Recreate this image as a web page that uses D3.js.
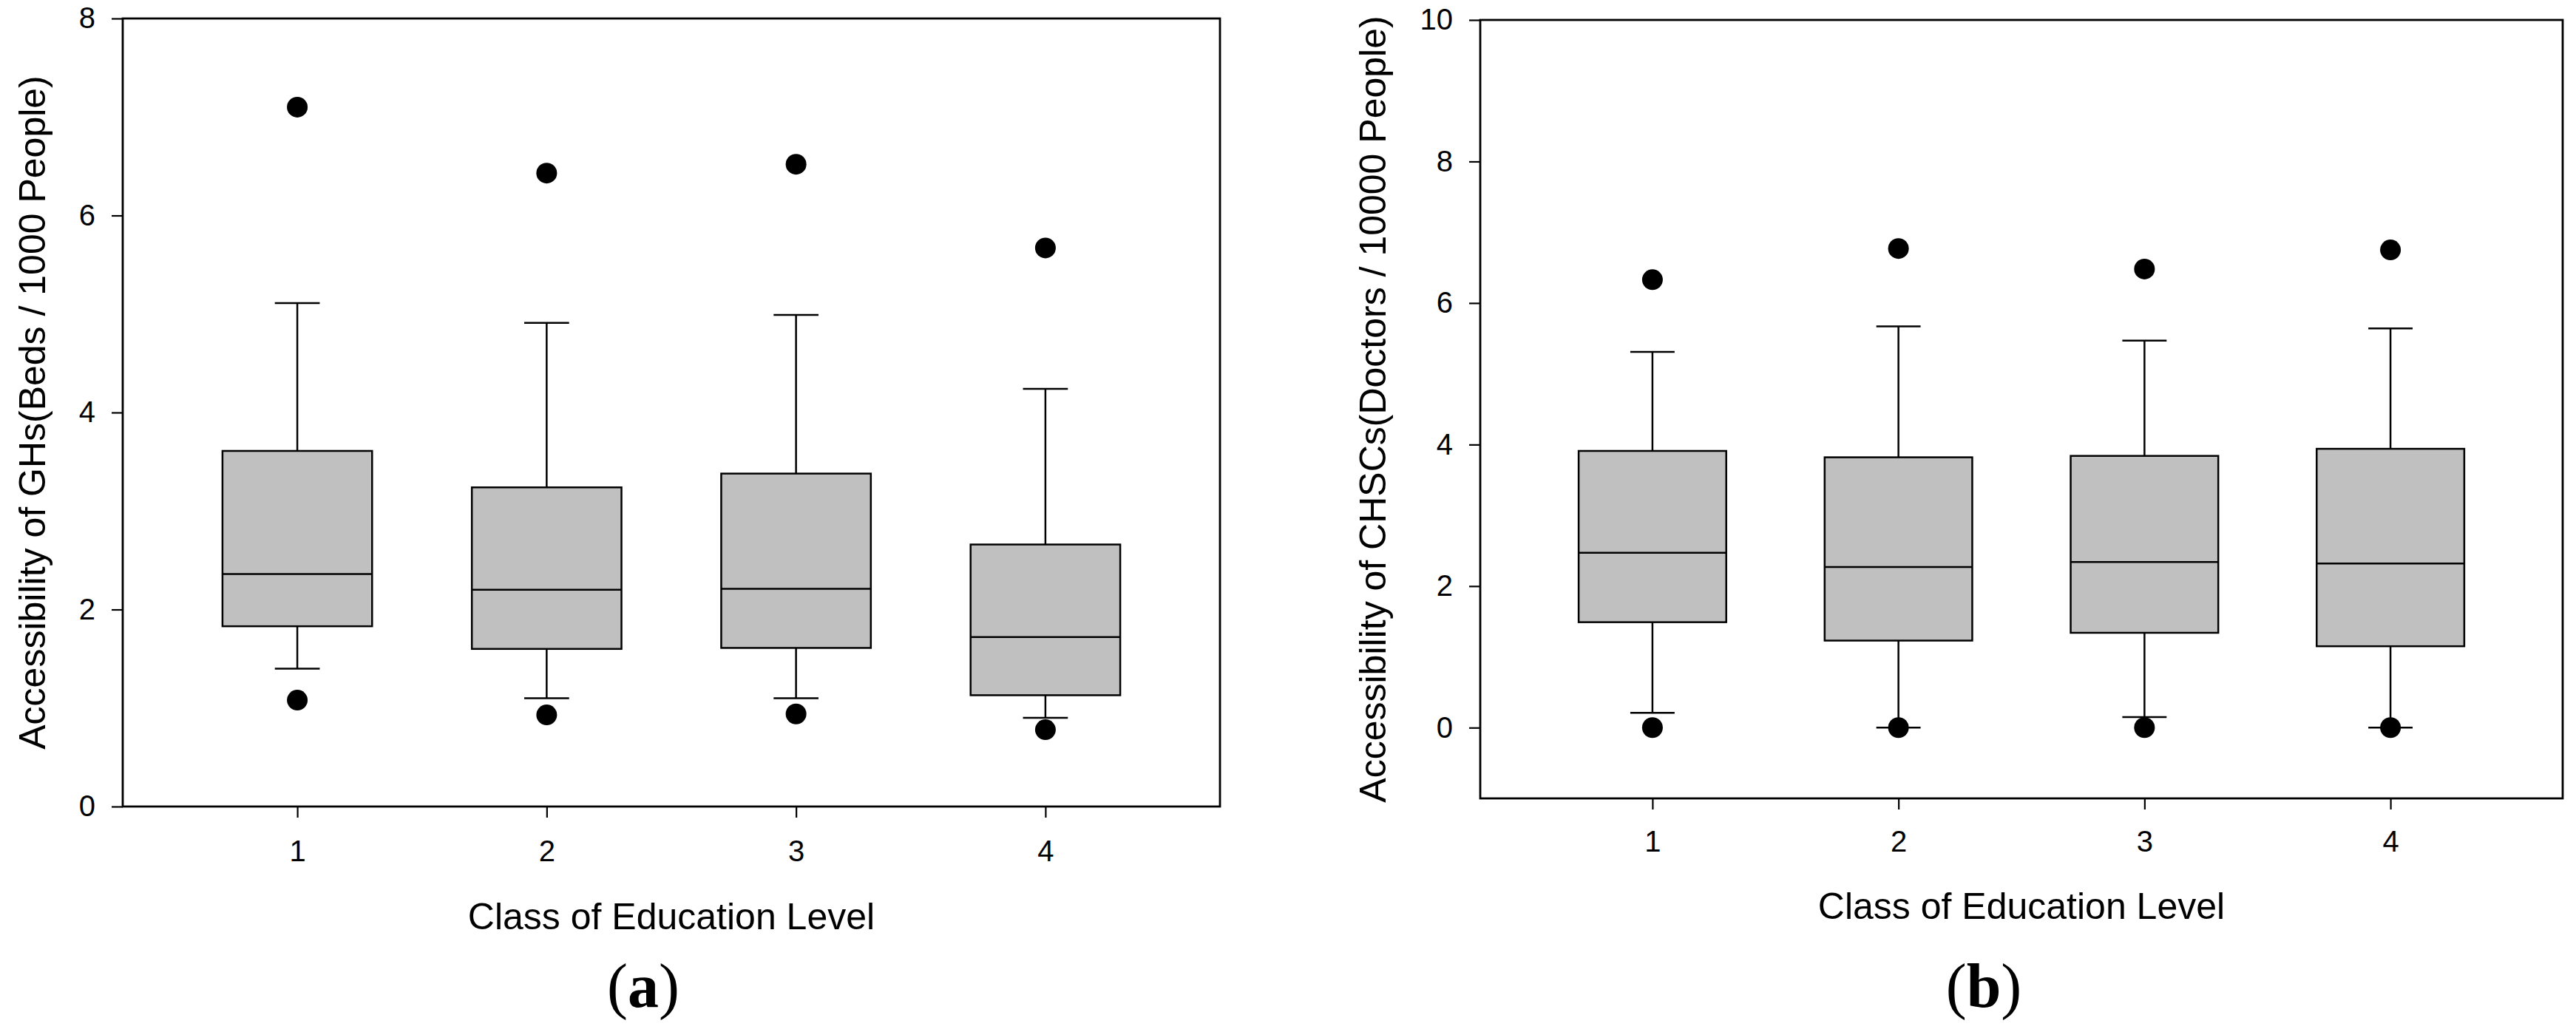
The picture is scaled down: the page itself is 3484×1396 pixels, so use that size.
<!DOCTYPE html>
<html>
<head>
<meta charset="utf-8">
<script src="https://cdn.jsdelivr.net/npm/d3@7"></script>
<style>
  html, body { margin: 0; padding: 0; background: #fff; }
  svg text { font-family: "Liberation Sans", Arial, sans-serif; fill: #000; }
</style>
</head>
<body>
<div id="chart"></div>
<script>
// classes on the x axis
var classes = [1, 2, 3, 4];
var classTicks = ["1", "2", "3", "4"];

// (a) accessibility of GHs, beds / 1000 people
var ghLowOut   = [1.08, 0.93, 0.94, 0.78];
var ghLow      = [1.40, 1.10, 1.10, 0.90];
var ghQ1       = [1.83, 1.60, 1.61, 1.13];
var ghMedian   = [2.36, 2.20, 2.21, 1.72];
var ghQ3       = [3.61, 3.24, 3.38, 2.66];
var ghHigh     = [5.11, 4.91, 4.99, 4.24];
var ghHighOut  = [7.10, 6.43, 6.52, 5.67];
var ghTicks    = [0, 2, 4, 6, 8];

// (b) accessibility of CHSCs, doctors / 10000 people
var chLowOut   = [0.00, 0.00, 0.00, 0.00];
var chLow      = [0.21, 0.00, 0.15, 0.00];
var chQ1       = [1.49, 1.23, 1.34, 1.15];
var chMedian   = [2.47, 2.27, 2.34, 2.32];
var chQ3       = [3.91, 3.82, 3.84, 3.94];
var chHigh     = [5.31, 5.67, 5.47, 5.64];
var chHighOut  = [6.33, 6.77, 6.48, 6.75];
var chTicks    = [0, 2, 4, 6, 8, 10];

var W = 3484, H = 1396;

var svg = d3.select("#chart").append("svg")
  .attr("width", W)
  .attr("height", H);

function boxPanel(opt) {
  var x = d3.scaleLinear().domain([0.3, 4.7]).range([opt.left, opt.right]);
  var y = d3.scaleLinear().domain(opt.yDomain).range([opt.bottom, opt.top]);

  var rows = classes.map(function(c, i) {
    return {
      c: c, lowOut: opt.lowOut[i], low: opt.low[i], q1: opt.q1[i],
      med: opt.median[i], q3: opt.q3[i], high: opt.high[i], highOut: opt.highOut[i]
    };
  });

  var g = svg.append("g");
  var boxW = x(0.6) - x(0);
  var capW = x(0.18) - x(0);

  var box = g.selectAll("g.box")
    .data(rows)
    .enter()
    .append("g")
      .attr("class", "box");

  // whiskers
  box.append("line")
    .attr("x1", function(d) { return x(d.c); })
    .attr("x2", function(d) { return x(d.c); })
    .attr("y1", function(d) { return y(d.q3); })
    .attr("y2", function(d) { return y(d.high); });
  box.append("line")
    .attr("x1", function(d) { return x(d.c); })
    .attr("x2", function(d) { return x(d.c); })
    .attr("y1", function(d) { return y(d.q1); })
    .attr("y2", function(d) { return y(d.low); });
  box.append("line")
    .attr("x1", function(d) { return x(d.c) - capW / 2; })
    .attr("x2", function(d) { return x(d.c) + capW / 2; })
    .attr("y1", function(d) { return y(d.high); })
    .attr("y2", function(d) { return y(d.high); });
  box.append("line")
    .attr("x1", function(d) { return x(d.c) - capW / 2; })
    .attr("x2", function(d) { return x(d.c) + capW / 2; })
    .attr("y1", function(d) { return y(d.low); })
    .attr("y2", function(d) { return y(d.low); });
  box.selectAll("line")
    .attr("stroke", "#000")
    .attr("stroke-width", 2.5);

  box.append("rect")
    .attr("x", function(d) { return x(d.c) - boxW / 2; })
    .attr("width", boxW)
    .attr("y", function(d) { return y(d.q3); })
    .attr("height", function(d) { return y(d.q1) - y(d.q3); })
    .attr("fill", "#c0c0c0")
    .attr("stroke", "#000")
    .attr("stroke-width", 2.5);

  box.append("line")
    .attr("x1", function(d) { return x(d.c) - boxW / 2; })
    .attr("x2", function(d) { return x(d.c) + boxW / 2; })
    .attr("y1", function(d) { return y(d.med); })
    .attr("y2", function(d) { return y(d.med); })
    .attr("stroke", "#000")
    .attr("stroke-width", 2.5);

  // outliers
  box.append("circle")
    .attr("cx", function(d) { return x(d.c); })
    .attr("cy", function(d) { return y(d.highOut); })
    .attr("r", 14);
  box.append("circle")
    .attr("cx", function(d) { return x(d.c); })
    .attr("cy", function(d) { return y(d.lowOut); })
    .attr("r", 14);

  // frame
  g.append("rect")
    .attr("x", opt.left)
    .attr("y", opt.top)
    .attr("width", opt.right - opt.left)
    .attr("height", opt.bottom - opt.top)
    .attr("fill", "none")
    .attr("stroke", "#000")
    .attr("stroke-width", 2.8);

  var yAxis = g.append("g")
    .attr("transform", "translate(" + opt.left + ",0)")
    .call(d3.axisLeft(y).tickValues(opt.ticks).tickSize(15).tickSizeOuter(0).tickPadding(22));
  var xAxis = g.append("g")
    .attr("transform", "translate(0," + opt.bottom + ")")
    .call(d3.axisBottom(x).tickValues(classes)
      .tickFormat(function(d, i) { return classTicks[i]; })
      .tickSize(15).tickSizeOuter(0).tickPadding(opt.xPad));

  [yAxis, xAxis].forEach(function(a) {
    a.select(".domain").remove();
    a.selectAll(".tick line").attr("stroke", "#000").attr("stroke-width", 2.2);
    a.selectAll(".tick text")
      .attr("font-family", "Liberation Sans, Arial, sans-serif")
      .attr("font-size", 40)
      .attr("fill", "#000");
  });

  g.append("text")
    .attr("x", (opt.left + opt.right) / 2)
    .attr("y", opt.xTitleY)
    .attr("text-anchor", "middle")
    .attr("font-size", 50)
    .text("Class of Education Level");

  g.append("text")
    .attr("transform", "translate(" + opt.yTitleX + "," + ((opt.top + opt.bottom) / 2) + ") rotate(-90)")
    .attr("text-anchor", "middle")
    .attr("font-size", 50)
    .text(opt.yTitle);

  var lab = g.append("text")
    .attr("x", opt.labelX)
    .attr("y", 1362)
    .attr("text-anchor", "middle")
    .attr("font-size", 84)
    .style("font-family", "'Liberation Serif', 'Times New Roman', serif");
  lab.append("tspan").text("(");
  lab.append("tspan").attr("font-weight", "bold").text(opt.label);
  lab.append("tspan").text(")");
}

boxPanel({
  left: 166, right: 1650, top: 25, bottom: 1091,
  yDomain: [0, 8], ticks: ghTicks,
  lowOut: ghLowOut, low: ghLow, q1: ghQ1, median: ghMedian,
  q3: ghQ3, high: ghHigh, highOut: ghHighOut,
  xPad: 31, xTitleY: 1257, yTitleX: 61,
  yTitle: "Accessibility of GHs(Beds / 1000 People)",
  label: "a", labelX: 870
});

boxPanel({
  left: 2002, right: 3466, top: 27, bottom: 1080,
  yDomain: [-1, 10], ticks: chTicks,
  lowOut: chLowOut, low: chLow, q1: chQ1, median: chMedian,
  q3: chQ3, high: chHigh, highOut: chHighOut,
  xPad: 29, xTitleY: 1243, yTitleX: 1874,
  yTitle: "Accessibility of CHSCs(Doctors / 10000 People)",
  label: "b", labelX: 2683
});
</script>
</body>
</html>
